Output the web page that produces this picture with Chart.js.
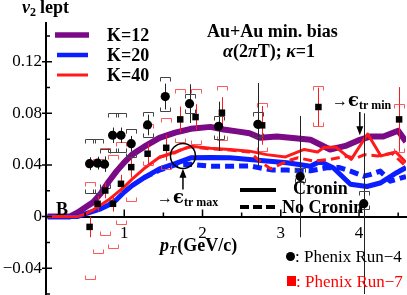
<!DOCTYPE html>
<html><head><meta charset="utf-8">
<script src="https://cdn.jsdelivr.net/npm/chart.js@4/dist/chart.umd.min.js"></script>
<style>html,body{margin:0;padding:0;background:#fff;overflow:hidden}</style>
</head><body><canvas id="c" width="407" height="295"></canvas>
<script>
// ---------- data ----------
const xTickVals = [1, 2, 3, 4];
const xTickText = ['1', '2', '3', '4'];
const yTickVals = [-0.04, 0, 0.04, 0.08, 0.12];
const yTickText = ['\u22120.04', '0', '0.04', '0.08', '0.12'];
const xMinorVals = [0.5, 1.5, 2.5, 3.5, 4.5];
const yMinorVals = [-0.06, -0.02, 0.02, 0.06, 0.10, 0.14];

// K=12 (Cronin)
const k12X = [0.02, 0.3, 0.4, 0.5, 0.6, 0.7, 0.8, 0.9, 1.0, 1.1, 1.25, 1.45, 1.65, 1.85, 2.1, 2.27, 2.44, 2.6, 2.74, 2.95, 3.12, 3.38, 3.63, 3.84, 4.01, 4.14, 4.31, 4.5, 4.6];
const k12Y = [0, 0, 0.003, 0.007, 0.011, 0.018, 0.027, 0.035, 0.042, 0.048, 0.054, 0.061, 0.065, 0.068, 0.0695, 0.0675, 0.066, 0.0645, 0.061, 0.062, 0.061, 0.0595, 0.052, 0.055, 0.0595, 0.062, 0.062, 0.0665, 0.058];
// K=20 Cronin
const k20X = [0.02, 0.4, 0.5, 0.6, 0.7, 0.8, 0.9, 1.0, 1.1, 1.25, 1.45, 1.65, 1.85, 2.1, 2.35, 2.6, 2.82, 3.08, 3.38, 3.5, 3.67, 3.89, 4.1, 4.27, 4.48, 4.6];
const k20Y = [0, 0, 0.002, 0.004, 0.006, 0.009, 0.013, 0.019, 0.024, 0.030, 0.037, 0.041, 0.0455, 0.0458, 0.0456, 0.0443, 0.043, 0.0417, 0.039, 0.0427, 0.0378, 0.025, 0.0233, 0.026, 0.034, 0.038];
// K=20 No Cronin
const k20nX = [1.25, 1.45, 1.65, 1.85, 2.1, 2.35, 2.6, 2.8, 2.9, 3.08, 3.38, 3.59, 3.75, 3.89, 4.06, 4.14, 4.27, 4.4, 4.6];
const k20nY = [0.030, 0.036, 0.040, 0.0405, 0.039, 0.039, 0.0393, 0.037, 0.036, 0.036, 0.0355, 0.0378, 0.038, 0.0352, 0.0313, 0.0325, 0.0352, 0.0274, 0.031];
// K=40 Cronin
const k40X = [0.02, 0.4, 0.5, 0.6, 0.7, 0.8, 0.9, 1.0, 1.1, 1.25, 1.45, 1.65, 1.85, 2.1, 2.35, 2.6, 2.82, 3.06, 3.3, 3.47, 3.55, 3.7, 3.9, 4.11, 4.28, 4.47, 4.6];
const k40Y = [0, 0, 0.002, 0.005, 0.009, 0.013, 0.018, 0.023, 0.029, 0.037, 0.046, 0.050, 0.0545, 0.053, 0.052, 0.0507, 0.048, 0.0462, 0.052, 0.050, 0.0535, 0.054, 0.0443, 0.064, 0.047, 0.050, 0.042];
// K=40 No Cronin
const k40nX = [1.45, 1.65, 1.75, 1.85, 2.1, 2.35, 2.6, 2.75, 2.87, 3.08, 3.22, 3.42, 3.63, 3.85, 3.95, 4.07, 4.24, 4.42, 4.6];
const k40nY = [0.046, 0.0495, 0.0525, 0.054, 0.0525, 0.0515, 0.050, 0.042, 0.037, 0.043, 0.0456, 0.043, 0.0443, 0.0468, 0.045, 0.048, 0.047, 0.049, 0.039];

// Phenix Run-4 (circles)
const run4X = [0.557, 0.659, 0.748, 0.851, 0.958, 1.089, 1.298, 1.524, 1.834, 2.205, 2.707, 3.248, 4.06];
const run4Y = [0.041, 0.0414, 0.0406, 0.063, 0.063, 0.0565, 0.071, 0.093, 0.0875, 0.070, 0.0715, 0.031, 0.010];
const run4Stat = [0.005, 0.005, 0.006, 0.006, 0.006, 0.006, 0.008, 0.010, 0.015, 0.019, 0.032, 0.047, 0.070];
const run4SysLo = [0.018, 0.018, 0.022, 0.050, 0.050, 0.046, 0.062, 0.082, 0.080, 0.060, 0.062, 0.027, 0.006];
const run4SysHi = [0.060, 0.060, 0.052, 0.080, 0.080, 0.068, 0.081, 0.108, 0.095, 0.078, 0.081, 0.038, 0.020];

// Phenix Run-7 (squares)
const run7X = [0.557, 0.659, 0.757, 0.856, 0.958, 1.089, 1.298, 1.536, 1.715, 1.911, 2.248, 2.762, 3.481, 4.512];
const run7Y = [-0.008, 0.0099, 0.0202, 0.0099, 0.0254, 0.0383, 0.0487, 0.0533, 0.0753, 0.0771, 0.0805, 0.0707, 0.0849, 0.0753];
const run7Stat = [0.008, 0.006, 0.006, 0.006, 0.007, 0.008, 0.008, 0.010, 0.010, 0.010, 0.012, 0.015, 0.015, 0.025];
const run7SysLo = [-0.048, -0.028, -0.014, -0.024, -0.006, 0.012, 0.040, 0.037, 0.058, 0.056, 0.059, 0.051, 0.070, 0.050];
const run7SysHi = [0.027, 0.045, 0.053, 0.048, 0.058, 0.068, 0.072, 0.076, 0.099, 0.099, 0.101, 0.088, 0.101, 0.087];

// ---------- build ----------
const pts = (xs, ys) => xs.map((x, i) => ({x: x, y: ys[i]}));
const PURPLE = '#7b0a86', BLUE = '#0a1eff', RED = '#ff1a1a';
const SERIF = '"Liberation Serif","Times New Roman",serif';

function lineDs(label, xs, ys, color, width, dash) {
  return {type: 'line', label, data: pts(xs, ys), borderColor: color, borderWidth: width,
    borderDash: dash || [], pointRadius: 0, fill: false, tension: 0,
    borderJoinStyle: 'round', borderCapStyle: 'butt'};
}
function findLabel(v, vals, texts) {
  for (let i = 0; i < vals.length; i++) if (Math.abs(v - vals[i]) < 1e-6) return texts[i];
  return null;
}
function runs(ctx, parts, x, y) {
  let cx = x;
  for (const p of parts) {
    ctx.font = p[1];
    ctx.fillText(p[0], cx, y + (p[2] || 0));
    cx += ctx.measureText(p[0]).width + (p[3] || 0);
  }
}
function drawErrors(chart) {
  const ctx = chart.ctx, xs = chart.scales.x, ys = chart.scales.y, a = chart.chartArea;
  ctx.save();
  ctx.beginPath(); ctx.rect(a.left, a.top, a.right - a.left, a.bottom - a.top); ctx.clip();
  function set(xArr, yArr, stat, lo, hi, statColor, sysColor) {
    for (let i = 0; i < xArr.length; i++) {
      const px = Math.round(xs.getPixelForValue(xArr[i])) + 0.5;
      ctx.strokeStyle = statColor; ctx.lineWidth = 1;
      ctx.beginPath();
      ctx.moveTo(px, ys.getPixelForValue(yArr[i] + stat[i]));
      ctx.lineTo(px, ys.getPixelForValue(yArr[i] - stat[i]));
      ctx.stroke();
      const w = 5, leg = 4;
      const pyH = Math.round(ys.getPixelForValue(hi[i])) + 0.5;
      const pyL = Math.round(ys.getPixelForValue(lo[i])) + 0.5;
      ctx.strokeStyle = sysColor; ctx.lineWidth = 1;
      ctx.beginPath();
      ctx.moveTo(px - w, pyH + leg); ctx.lineTo(px - w, pyH); ctx.lineTo(px + w, pyH); ctx.lineTo(px + w, pyH + leg);
      ctx.moveTo(px - w, pyL - leg); ctx.lineTo(px - w, pyL); ctx.lineTo(px + w, pyL); ctx.lineTo(px + w, pyL - leg);
      ctx.stroke();
    }
  }
  set(run7X, run7Y, run7Stat, run7SysLo, run7SysHi, RED, 'rgba(255,60,60,0.85)');
  set(run4X, run4Y, run4Stat, run4SysLo, run4SysHi, '#222', '#444');
  ctx.restore();
}
const deco = {
  id: 'deco',
  beforeDatasetDraw(chart, args) { if (args.index === 1) drawErrors(chart); },
  afterDraw(chart) {
    const ctx = chart.ctx, xs = chart.scales.x, ys = chart.scales.y, a = chart.chartArea;
    ctx.save();
    ctx.strokeStyle = '#000'; ctx.lineWidth = 1.5;
    const y0 = ys.getPixelForValue(0);
    ctx.beginPath();
    for (const v of yTickVals) { const py = ys.getPixelForValue(v); ctx.moveTo(a.left - 4, py); ctx.lineTo(a.left + 6, py); }
    for (const v of yMinorVals) { const py = ys.getPixelForValue(v); ctx.moveTo(a.left, py); ctx.lineTo(a.left + 4, py); }
    for (const v of xTickVals) { const px = xs.getPixelForValue(v); ctx.moveTo(px, y0); ctx.lineTo(px, y0 - 7); }
    for (const v of xMinorVals) { const px = xs.getPixelForValue(v); ctx.moveTo(px, y0); ctx.lineTo(px, y0 - 4); }
    ctx.stroke();

    ctx.fillStyle = '#000'; ctx.textBaseline = 'alphabetic'; ctx.textAlign = 'left';
    const B = 'bold 18px ' + SERIF, BI = 'italic bold 18px ' + SERIF;
    runs(ctx, [['v', BI], ['2', 'bold 12px ' + SERIF, 3, 4], ['lept', B]], 22, 13);
    runs(ctx, [['p', BI], ['T', 'italic bold 12px ' + SERIF, 3, 1], ['(GeV/c)', B]], 160, 251);
    runs(ctx, [['Au+Au min. bias', B]], 207, 37);
    runs(ctx, [['\u03b1', BI], ['(2', B], ['\u03c0', BI], ['T); ', B], ['\u03ba', BI], ['=1', B]], 223, 57);
    runs(ctx, [['B', B]], 56, 215);

    ctx.lineCap = 'butt';
    const leg = [[PURPLE, 5.5, 55, 89, 35, 'K=12'], [BLUE, 4.5, 57, 88, 55, 'K=20'], [RED, 3, 57, 88, 75, 'K=40']];
    for (const l of leg) {
      ctx.strokeStyle = l[0]; ctx.lineWidth = l[1];
      ctx.beginPath(); ctx.moveTo(l[2], l[4]); ctx.lineTo(l[3], l[4]); ctx.stroke();
      ctx.fillStyle = '#000'; runs(ctx, [[l[5], B]], 107, l[4] + 6);
    }
    ctx.strokeStyle = '#000'; ctx.lineWidth = 4;
    ctx.beginPath(); ctx.moveTo(240, 190); ctx.lineTo(276, 190); ctx.stroke();
    ctx.setLineDash([9, 4]);
    ctx.beginPath(); ctx.moveTo(240, 207); ctx.lineTo(278, 207); ctx.stroke();
    ctx.setLineDash([]);
    runs(ctx, [['Cronin', B]], 293, 194);
    runs(ctx, [['No Cronin', B]], 282, 213);

    const cx = xs.getPixelForValue(1.75), cy = ys.getPixelForValue(0.047);
    ctx.lineWidth = 1.5; ctx.strokeStyle = '#000';
    ctx.beginPath(); ctx.arc(cx, cy, 12.5, 0, Math.PI * 2); ctx.stroke();
    function arrow(x, yFrom, yTo) {
      const p1 = ys.getPixelForValue(yFrom), p2 = ys.getPixelForValue(yTo);
      const d = p2 > p1 ? 1 : -1;
      ctx.lineWidth = 1.5;
      ctx.beginPath(); ctx.moveTo(x, p1); ctx.lineTo(x, p2 - d * 6); ctx.stroke();
      ctx.beginPath(); ctx.moveTo(x, p2); ctx.lineTo(x - 3.5, p2 - d * 9); ctx.lineTo(x + 3.5, p2 - d * 9); ctx.closePath(); ctx.fill();
    }
    arrow(cx, 0.021, 0.037);
    arrow(xs.getPixelForValue(4.01), 0.081, 0.063);
    runs(ctx, [['\u2192', 'bold 16px ' + SERIF], ['\u03f5', 'bold 18px "DejaVu Serif",' + SERIF], ['tr max', 'bold 12px ' + SERIF, 3]], 157, 203);
    runs(ctx, [['\u2192', 'bold 16px ' + SERIF], ['\u03f5', 'bold 18px "DejaVu Serif",' + SERIF], ['tr min', 'bold 12px ' + SERIF, 3]], 332, 106);

    ctx.fillStyle = '#000';
    ctx.beginPath(); ctx.arc(290.5, 256.5, 4.5, 0, Math.PI * 2); ctx.fill();
    runs(ctx, [[': Phenix Run\u22124', '17px ' + SERIF]], 295, 262);
    ctx.fillStyle = '#ff0000';
    ctx.fillRect(287, 276, 9, 10);
    runs(ctx, [[': Phenix Run\u22127', '17px ' + SERIF]], 296, 287);
    ctx.restore();
  }
};

new Chart(document.getElementById('c'), {
  type: 'line',
  data: {
    datasets: [
      {type: 'scatter', label: 'Phenix Run-4', data: pts(run4X, run4Y), pointStyle: 'circle', pointRadius: 4.6, backgroundColor: '#000', borderWidth: 0, showLine: false},
      {type: 'scatter', label: 'Phenix Run-7', data: pts(run7X, run7Y), pointStyle: 'rect', pointRadius: 4.6, backgroundColor: '#000', borderWidth: 0, showLine: false},
      lineDs('K=40 Cronin', k40X, k40Y, RED, 3),
      lineDs('K=40 No Cronin', k40nX, k40nY, RED, 3, [9, 5]),
      lineDs('K=20 Cronin', k20X, k20Y, BLUE, 5),
      lineDs('K=20 No Cronin', k20nX, k20nY, BLUE, 5, [9, 5]),
      lineDs('K=12 Cronin', k12X, k12Y, PURPLE, 6)
    ]
  },
  options: {
    responsive: false, animation: false, devicePixelRatio: 1,
    layout: {autoPadding: false, padding: {top: 23, right: 1, bottom: 1, left: 0}},
    plugins: {legend: {display: false}, tooltip: {enabled: false}},
    scales: {
      x: {type: 'linear', position: {y: 0}, min: 0, max: 4.6,
        afterFit: s => { s.height = 0; s.paddingLeft = 0; s.paddingRight = 0; s.paddingTop = 0; s.paddingBottom = 0; },
        grid: {display: false, drawTicks: false},
        border: {display: true, color: '#000', width: 2},
        ticks: {stepSize: 0.5, includeBounds: false, autoSkip: false, maxRotation: 0, padding: 7, color: '#000',
          font: {family: SERIF, size: 17}, callback: v => findLabel(v, xTickVals, xTickText)}},
      y: {type: 'linear', position: 'left', min: -0.06, max: 0.15,
        afterFit: s => { s.width = 46; s.paddingTop = 0; s.paddingBottom = 0; s.paddingLeft = 0; s.paddingRight = 0; },
        grid: {display: false, drawTicks: false},
        border: {display: true, color: '#000', width: 2},
        ticks: {stepSize: 0.02, includeBounds: false, autoSkip: false, padding: 4, color: '#000',
          font: {family: SERIF, size: 17}, callback: v => findLabel(v, yTickVals, yTickText)}}
    }
  },
  plugins: [deco]
});
</script></body></html>
